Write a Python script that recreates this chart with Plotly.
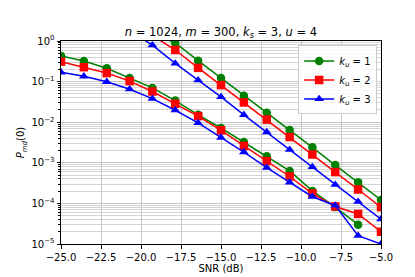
import numpy as np
import plotly.graph_objects as go

snr = [-25.0, -23.57, -22.14, -20.71, -19.29, -17.86, -16.43, -15.0,
       -13.57, -12.14, -10.71, -9.29, -7.86, -6.43, -5.0]

# lower-left group
green_a = [0.43, 0.32, 0.214, 0.123, 0.070, 0.034, 0.0152, 0.0072,
           0.00325, 0.00145, 0.00063, 0.000203, 8.1e-5, 3.0e-5, None]
red_a = [0.31, 0.226, 0.162, 0.103, 0.057, 0.0284, 0.0141, 0.0063,
         0.0026, 0.0011, 0.00046, 0.000175, 8.4e-5, 5.5e-5, 2.0e-5]
blue_a = [0.169, 0.135, 0.099, 0.065, 0.038, 0.0197, 0.0096, 0.0042,
          0.00184, 0.00076, 0.00033, 0.000146, 8.9e-5, 1.6e-5, 1.0e-5]

# upper-right group
green_b = [None, None, None, None, 1.6, 0.895, 0.327, 0.123,
           0.045, 0.017, 0.0064, 0.0024, 0.00088, 0.00033, 0.000122]
red_b = [None, None, None, None, 1.37, 0.6, 0.218, 0.082,
         0.0306, 0.0116, 0.0043, 0.0016, 0.00059, 0.00022, 8.1e-5]
blue_b = [None, None, None, 1.85, 0.79, 0.28, 0.108, 0.042,
          0.0152, 0.0057, 0.0021, 0.00079, 0.00029, 0.00011, 4.1e-5]

labels = ["<i>k<sub>u</sub></i> = 1", "<i>k<sub>u</sub></i> = 2", "<i>k<sub>u</sub></i> = 3"]
colors = ["#008000", "#ff0000", "#0000ff"]
symbols = ["circle", "square", "triangle-up"]
sets_a = [green_a, red_a, blue_a]
sets_b = [green_b, red_b, blue_b]

x_ticks = [-25.0, -22.5, -20.0, -17.5, -15.0, -12.5, -10.0, -7.5, -5.0]
y_ticks = [1e-5, 1e-4, 1e-3, 1e-2, 1e-1, 1e0]
y_ticktext = ["10<sup>−5</sup>", "10<sup>−4</sup>", "10<sup>−3</sup>",
              "10<sup>−2</sup>", "10<sup>−1</sup>", "10<sup>0</sup>"]

fig = go.Figure()
for i in range(3):
    for j, ys in enumerate([sets_a[i], sets_b[i]]):
        fig.add_trace(go.Scatter(
            x=snr, y=ys, mode="lines+markers",
            name=labels[i], legendgroup=str(i), showlegend=(j == 0),
            line=dict(color=colors[i], width=1.5),
            marker=dict(symbol=symbols[i], size=8.5, color=colors[i]),
            connectgaps=False,
        ))

fig.update_layout(
    width=415, height=277,
    margin=dict(l=53, r=42, t=33, b=35),
    paper_bgcolor="white", plot_bgcolor="white",
    font=dict(family="DejaVu Sans", size=10, color="black"),
    title=dict(text="<i>n</i> = 1024, <i>m</i> = 300, <i>k<sub>s</sub></i> = 3, <i>u</i> = 4",
               x=0.513, xanchor="center", y=0.915, yanchor="middle",
               font=dict(size=11.5)),
    showlegend=True,
    legend=dict(x=0.988, y=0.978, xanchor="right", yanchor="top",
                bgcolor="rgba(255,255,255,0.85)", bordercolor="#cccccc", borderwidth=1,
                font=dict(size=10), tracegroupgap=0, itemwidth=30),
)
fig.update_xaxes(
    range=[-25, -5], tickvals=x_ticks, tickformat=".1f",
    showline=True, linecolor="black", linewidth=1, mirror=True,
    ticks="outside", ticklen=3.5, tickcolor="black",
    showgrid=True, gridcolor="#c8c8c8", gridwidth=1, zeroline=False,
    title=dict(text="SNR (dB)", standoff=3, font=dict(size=10)),
)
fig.update_yaxes(
    type="log", range=[-5, 0], tickvals=y_ticks, ticktext=y_ticktext,
    showline=True, linecolor="black", linewidth=1, mirror=True,
    ticks="outside", ticklen=3.5, tickcolor="black",
    showgrid=True, gridcolor="#c8c8c8", gridwidth=1, zeroline=False,
    minor=dict(dtick="D1", showgrid=True, gridcolor="#d4d4d4", gridwidth=1,
               ticks="outside", ticklen=2, tickcolor="black"),
    title=dict(text="<i>P<sub>md</sub></i>(0)", standoff=4, font=dict(size=10)),
)

fig.write_html("out.html")
